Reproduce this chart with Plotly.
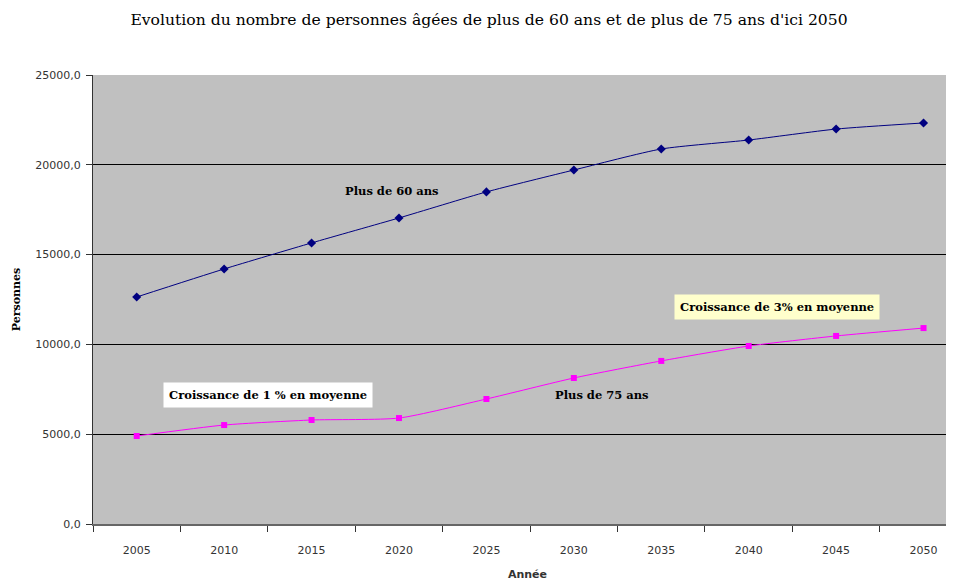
import plotly.graph_objects as go

years = ["2005", "2010", "2015", "2020", "2025", "2030", "2035", "2040", "2045", "2050"]
plus60 = [12640, 14200, 15650, 17040, 18490, 19710, 20880, 21380, 21990, 22330]
plus75 = [4900, 5510, 5790, 5900, 6960, 8130, 9080, 9910, 10470, 10910]
ytick_vals = [0, 5000, 10000, 15000, 20000, 25000]
ytick_text = ["0,0", "5000,0", "10000,0", "15000,0", "20000,0", "25000,0"]

serif = "DejaVu Serif"
sans = "DejaVu Sans"

fig = go.Figure()
fig.add_trace(go.Scatter(
    x=years, y=plus60, mode="lines+markers", name="Plus de 60 ans",
    line=dict(color="#000080", width=1, shape="spline", smoothing=0.6),
    marker=dict(symbol="diamond", size=7, color="#000080"),
))
fig.add_trace(go.Scatter(
    x=years, y=plus75, mode="lines+markers", name="Plus de 75 ans",
    line=dict(color="#FF00FF", width=1, shape="spline", smoothing=0.6),
    marker=dict(symbol="square", size=6, color="#FF00FF"),
))

fig.update_layout(
    width=954, height=579,
    margin=dict(l=85, r=0, t=67, b=63),
    paper_bgcolor="white", plot_bgcolor="#C0C0C0",
    showlegend=False,
    title=dict(
        text="Evolution du nombre de personnes âgées de plus de 60 ans et de plus de 75 ans d'ici 2050",
        font=dict(family=serif, size=15.6, color="black"),
        x=481 / 954, xanchor="center", y=1 - 12 / 579, yanchor="middle",
    ),
    xaxis=dict(
        type="category", range=[-0.5, 9.44],
        tickson="boundaries", ticks="outside", ticklen=6, tickcolor="#333",
        ticklabelstandoff=15,
        showgrid=False, showline=True, linecolor="#666", linewidth=2,
        tickfont=dict(family=sans, size=11, color="#333"),
        title=dict(text="<b>Année</b>", font=dict(family=sans, size=11, color="#333"), standoff=14),
    ),
    yaxis=dict(
        range=[0, 25000], tickvals=ytick_vals, ticktext=ytick_text,
        ticks="outside", ticklen=6, tickcolor="#333",
        ticklabelstandoff=3,
        showgrid=True, gridcolor="#000000", gridwidth=1,
        zeroline=False, showline=True, linecolor="#333", linewidth=1,
        tickfont=dict(family=sans, size=11, color="#333"),
        title=dict(text="<b>Personnes</b>", font=dict(family=serif, size=11, color="black"), standoff=12),
    ),
)

ann_font = dict(family=serif, size=11.5, color="black")
fig.add_annotation(x=2.92, y=18540, xref="x", yref="y", text="<b>Plus de 60 ans</b>",
                   showarrow=False, font=ann_font)
fig.add_annotation(x=5.32, y=7180, xref="x", yref="y", text="<b>Plus de 75 ans</b>",
                   showarrow=False, font=ann_font)
fig.add_annotation(x=1.50, y=7180, xref="x", yref="y", text="<b>Croissance de 1 % en moyenne</b>",
                   showarrow=False, bgcolor="white", borderpad=5, font=ann_font)
fig.add_annotation(x=7.32, y=12080, xref="x", yref="y", text="<b>Croissance de 3% en moyenne</b>",
                   showarrow=False, bgcolor="#FFFFCC", borderpad=5, font=ann_font)

fig.write_html("out.html")
